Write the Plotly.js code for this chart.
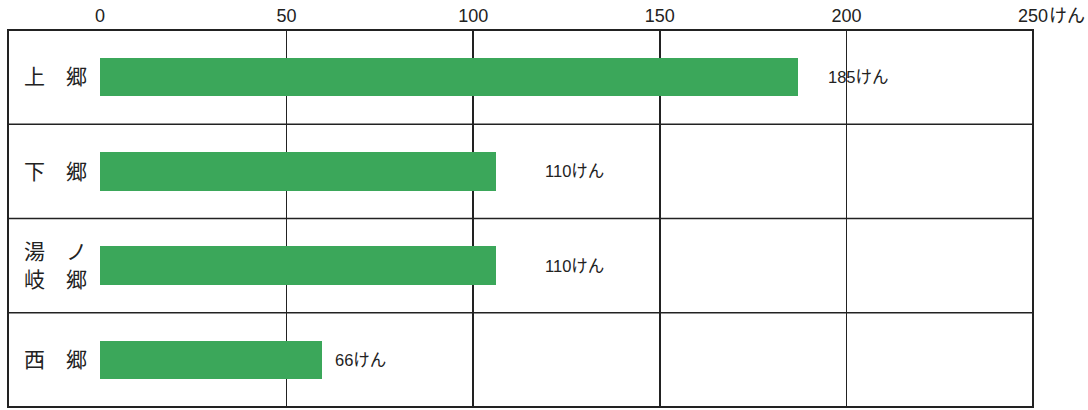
<!DOCTYPE html>
<html>
<head>
<meta charset="utf-8">
<script src="https://cdn.plot.ly/plotly-3.0.1.min.js"></script>
<style>html,body{margin:0;padding:0;background:#fff;}#chart{width:1088px;height:410px;}</style>
</head>
<body>
<div id="chart"></div>
<script>
// Categories (top to bottom)
const categories = ['上郷', '下郷', '湯ノ岐郷', '西郷'];
const categoryLabels = ['上　郷', '下　郷', '湯　ノ<br>岐　郷', '西　郷'];
// Bar lengths as drawn in the picture (けん)
const barValues = [187, 106, 106, 59.6];
// Printed value labels
const valueLabels = ['185けん', '110けん', '110けん', '66けん'];
// Axis ticks
const tickValues = [0, 50, 100, 150, 200, 250];
const tickLabels = ['0', '50', '100', '150', '200', '250'];
const axisUnit = 'けん';

// label placement (x in axis units) as printed on the picture
const labelX = [194.5, 118.7, 118.7, 62.4];

const lineColor = '#222';
const fontFam = 'Liberation Sans, Arial, Noto Sans CJK JP, sans-serif';
const cjkFam = 'Noto Sans CJK JP, sans-serif';

const plotLeft = 100, plotRight = 1033;
const tableLeft = 8;
const leftPaper = (tableLeft - plotLeft) / (plotRight - plotLeft);

const trace = {
  type: 'bar',
  orientation: 'h',
  y: categories,
  x: barValues,
  width: 0.41,
  marker: {color: '#3ba75a', line: {width: 0}},
  hoverinfo: 'none'
};

const shapes = [];
// outer border
shapes.push({type: 'rect', xref: 'paper', yref: 'paper', x0: leftPaper, x1: 1, y0: 0, y1: 1,
  line: {color: lineColor, width: 2}, layer: 'above'});
// row separators
[0.25, 0.5, 0.75].forEach(v => shapes.push({type: 'line', xref: 'paper', yref: 'paper',
  x0: leftPaper, x1: 1, y0: v, y1: v, line: {color: lineColor, width: 1.6}, layer: 'above'}));

const annotations = categories.map((c, i) => ({
  x: labelX[i], y: c, xref: 'x', yref: 'y', text: valueLabels[i], showarrow: false,
  xanchor: 'left', yanchor: 'middle', font: {family: fontFam, size: 16.5, color: '#222'}
}));
annotations.push({x: 250, y: 1, xref: 'x', yref: 'paper', text: axisUnit, showarrow: false,
  xanchor: 'left', yanchor: 'middle', xshift: 14, yshift: 14,
  font: {family: fontFam, size: 18, color: '#222'}});

const layout = {
  width: 1088, height: 410,
  margin: {l: plotLeft, r: 1088 - plotRight, t: 30, b: 3, pad: 0},
  paper_bgcolor: '#fff', plot_bgcolor: '#fff',
  showlegend: false,
  bargap: 0,
  xaxis: {
    side: 'top', range: [0, 250], tickvals: tickValues, ticktext: tickLabels,
    showgrid: true, gridcolor: lineColor, gridwidth: 1.6, zeroline: false, showline: false,
    ticks: '', ticklabelstandoff: 3,
    tickfont: {family: fontFam, size: 18, color: '#222'}, fixedrange: true
  },
  yaxis: {
    type: 'category', categoryorder: 'array', categoryarray: categories,
    autorange: 'reversed', tickvals: categories, ticktext: categoryLabels,
    showgrid: false, zeroline: false, showline: false, ticks: '',
    ticklabelstandoff: 12,
    tickfont: {family: cjkFam, size: 21, color: '#222'}, fixedrange: true
  },
  shapes: shapes,
  annotations: annotations
};

Plotly.newPlot('chart', [trace], layout, {displayModeBar: false, staticPlot: true});
</script>
</body>
</html>
